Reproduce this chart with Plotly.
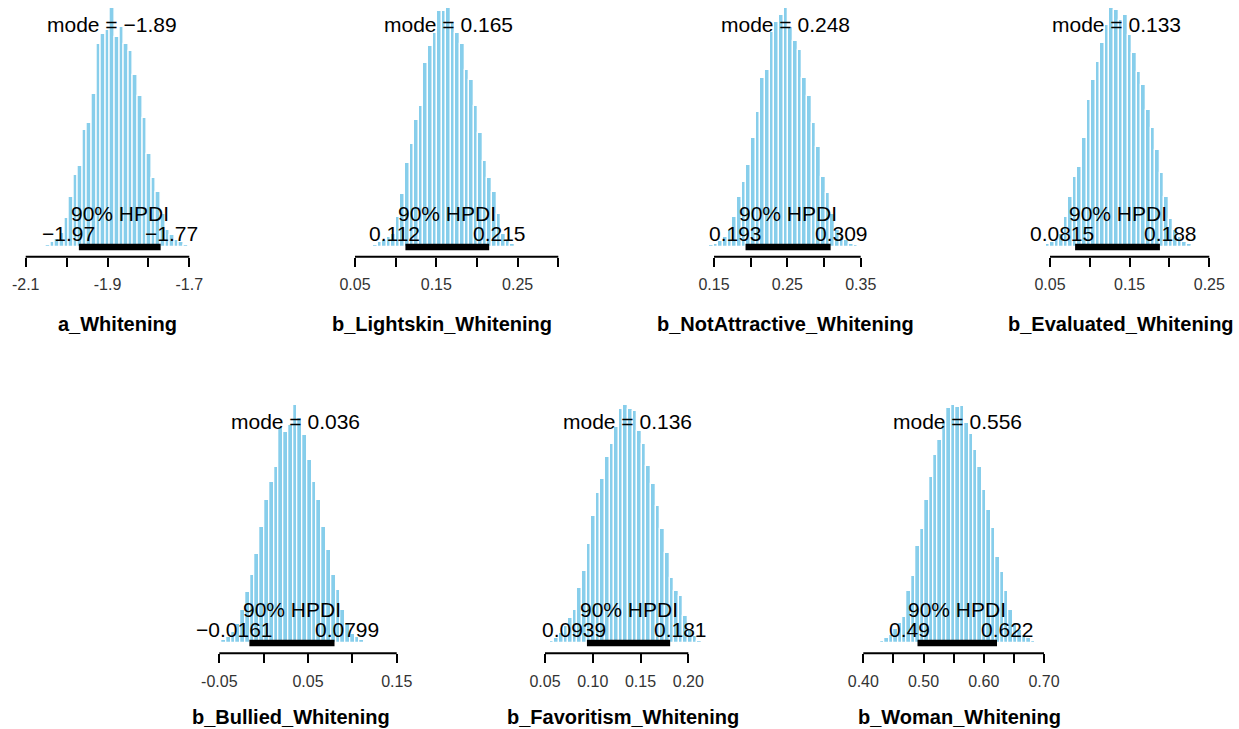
import plotly.graph_objects as go

W, H = 1239, 729

# ---------------- data ----------------
names = ["a_Whitening", "b_Lightskin_Whitening", "b_NotAttractive_Whitening",
         "b_Evaluated_Whitening", "b_Bullied_Whitening", "b_Favoritism_Whitening",
         "b_Woman_Whitening"]
modes = [-1.89, 0.165, 0.248, 0.133, 0.036, 0.136, 0.556]
hpdi_lo = [-1.97, 0.112, 0.193, 0.0815, -0.0161, 0.0939, 0.49]
hpdi_hi = [-1.77, 0.215, 0.309, 0.188, 0.0799, 0.181, 0.622]

# histogram bins (left edge of first bin, bin width) and relative bar heights (% of tallest bar)
bin_start = [-2.062, 0.0665, 0.1431, 0.0444, -0.0585, 0.0502, 0.4280]
bin_width = [0.01123, 0.00563, 0.00636, 0.00573, 0.00538, 0.00482, 0.00736]

h_a = [0.5, 1, 2, 3.5, 6, 12, 21, 30, 34, 49, 52, 64, 85, 89, 91, 100,
       88, 92, 85, 82, 72, 63, 54, 39, 29, 23, 14, 7, 5, 3, 2, 1, 0.5]
h_lightskin = [0.5, 1, 2, 3, 4, 5.6, 12.6, 22, 35, 43, 53, 59, 77, 84, 89.5, 98.6,
               98.6, 100, 94, 89.5, 85, 74, 70, 59, 47.5, 36, 28.7, 23, 14, 5.6, 2.8, 1.4]
h_notattr = [0.7, 1.4, 2.5, 4.2, 7, 12.6, 21, 27.3, 34.3, 45.5, 56.6, 70.6, 74, 90, 94, 97,
             100, 92, 86, 82.5, 70.6, 63, 51.7, 42, 29.4, 22.4, 14, 7, 4.2, 2.8, 1.4, 0.7, 0.4]
h_evaluated = [1.1, 2.1, 3.5, 5.6, 12.6, 21, 29.4, 33.6, 45.5, 61.5, 70, 77.6, 85.3, 93,
               100, 99.3, 95, 97, 88.8, 81, 73.4, 67.8, 57.3, 49.7, 40.6, 30.8, 21, 11.9,
               7, 4.2, 2.1, 1.1, 0.6]
h_bullied = [0.3, 0.5, 1.1, 2.5, 4.6, 8, 13.7, 21.5, 28.5, 37.6, 48.8, 60, 67.7, 74, 90.9,
             88.8, 91.6, 100, 94.4, 87.4, 76.9, 67.7, 60, 48.8, 39, 28.5, 22.2, 13.7, 8,
             3.9, 2.5, 1.1, 0.5]
h_favoritism = [0.4, 1, 2.1, 4.2, 7, 10.5, 14, 23.2, 30.2, 41.4, 53.4, 63.2, 68.8, 78, 83.6,
                90.6, 98.3, 100, 98.3, 97.6, 89.2, 83.6, 74.4, 66.7, 57.6, 47.8, 37.9, 27.4,
                21.8, 19.7, 11.2, 5.6, 2.8, 0.7]
h_woman = [1, 2, 3.4, 6, 8.6, 10.9, 22, 28, 40.8, 47.9, 60, 69.9, 79, 85.3, 92.3, 98.6,
           100, 99.2, 99.6, 92.3, 88, 81, 74, 64.3, 55.7, 48.5, 36.3, 30, 22, 13.7, 8.3,
           5.5, 3.4, 2, 1, 0.5]
heights = [h_a, h_lightskin, h_notattr, h_evaluated, h_bullied, h_favoritism, h_woman]

tick_vals = [
    [-2.1, -2.0, -1.9, -1.8, -1.7],
    [0.05, 0.10, 0.15, 0.20, 0.25, 0.30],
    [0.15, 0.20, 0.25, 0.30, 0.35],
    [0.05, 0.10, 0.15, 0.20, 0.25],
    [-0.05, 0.0, 0.05, 0.10, 0.15],
    [0.05, 0.10, 0.15, 0.20],
    [0.40, 0.45, 0.50, 0.55, 0.60, 0.65, 0.70],
]
tick_text = [
    ["-2.1", "", "-1.9", "", "-1.7"],
    ["0.05", "", "0.15", "", "0.25", ""],
    ["0.15", "", "0.25", "", "0.35"],
    ["0.05", "", "0.15", "", "0.25"],
    ["-0.05", "", "0.05", "", "0.15"],
    ["0.05", "0.10", "0.15", "0.20"],
    ["0.40", "", "0.50", "", "0.60", "", "0.70"],
]

# ---------------- layout geometry (pixels) ----------------
# pixel of first tick, pixels per unit, row index
geom = [
    (25.7, 409.0, 0), (355.0, 813.2, 0), (714.0, 733.5, 0), (1050.0, 796.5, 0),
    (219.3, 887.0, 1), (545.0, 955.3, 1), (863.3, 602.3, 1),
]
rows = [
    dict(axis=256.7, base=247.0, peak=8.0, top=0.0, title=324.0),
    dict(axis=653.3, base=643.0, peak=405.0, top=390.0, title=717.0),
]

FONT = "Liberation Sans, Arial, Helvetica, sans-serif"
BAR = "#87CEEB"

CW = {'0': .556, '1': .556, '2': .556, '3': .556, '4': .556, '5': .556, '6': .556,
      '7': .556, '8': .556, '9': .556, '.': .278, '\u2212': .584}


def tw(s, size):
    return sum(CW.get(c, .556) for c in s) * size


def lab(v):
    return f"{v:g}".replace("-", "\u2212")


fig = go.Figure()
annotations = []
shapes = []
layout = {}

for i in range(7):
    n = i + 1
    xa = "x" if n == 1 else f"x{n}"
    ya = "y" if n == 1 else f"y{n}"
    p0, s, r = geom[i]
    row = rows[r]
    v0 = tick_vals[i][0]
    p_last = p0 + (tick_vals[i][-1] - v0) * s
    L = max(0.0, p0 - 25)
    R = min(W, p_last + 25)
    ppu = (row["base"] - row["peak"]) / 100.0

    hs = heights[i]
    w = bin_width[i]
    centers = [bin_start[i] + w * (k + 0.5) for k in range(len(hs))]

    fig.add_trace(go.Bar(
        x=centers, y=hs, width=w, xaxis=xa, yaxis=ya,
        marker=dict(color=BAR, line=dict(color="white", width=1.3)),
        showlegend=False, hoverinfo="skip"))

    layout[f"xaxis{'' if n == 1 else n}"] = dict(
        domain=[L / W, R / W],
        range=[v0 + (L - p0) / s, v0 + (R - p0) / s],
        anchor=ya, showgrid=False, zeroline=False, showline=False,
        ticks="outside", ticklen=9, tickwidth=2, tickcolor="black",
        ticklabelstandoff=4,
        tickvals=tick_vals[i], ticktext=tick_text[i],
        tickfont=dict(family=FONT, size=16, color="#333333"),
        fixedrange=True)
    layout[f"yaxis{'' if n == 1 else n}"] = dict(
        domain=[1 - row["axis"] / H, 1 - row["top"] / H],
        range=[-(row["axis"] - row["base"]) / ppu, (row["base"] - row["top"]) / ppu],
        anchor=xa, visible=False, fixedrange=True)

    # axis line (first tick to last tick)
    shapes.append(dict(type="line", xref=xa, yref="paper",
                       x0=tick_vals[i][0], x1=tick_vals[i][-1],
                       y0=1 - row["axis"] / H, y1=1 - row["axis"] / H,
                       line=dict(color="black", width=2)))
    # HPDI bar
    shapes.append(dict(type="line", xref=xa, yref=ya,
                       x0=hpdi_lo[i], x1=hpdi_hi[i], y0=0, y1=0,
                       line=dict(color="black", width=6.5)))

    fs = 21
    annotations.append(dict(x=modes[i], y=(row["base"] - (row["peak"] + 16)) / ppu,
                            xref=xa, yref=ya, text=f"mode = {lab(modes[i])}",
                            showarrow=False, xanchor="center", yanchor="middle",
                            font=dict(family=FONT, size=fs, color="black")))
    annotations.append(dict(x=(hpdi_lo[i] + hpdi_hi[i]) / 2, y=34 / ppu,
                            xref=xa, yref=ya, text="90% HPDI",
                            showarrow=False, xanchor="center", yanchor="middle",
                            font=dict(family=FONT, size=fs, color="black")))
    lo_t = lab(hpdi_lo[i])
    hi_t = lab(hpdi_hi[i])
    annotations.append(dict(x=hpdi_lo[i], y=14 / ppu, xref=xa, yref=ya, text=lo_t,
                            showarrow=False, xanchor="center", yanchor="middle",
                            xshift=-0.2 * tw(lo_t, fs),
                            font=dict(family=FONT, size=fs, color="black")))
    annotations.append(dict(x=hpdi_hi[i], y=14 / ppu, xref=xa, yref=ya, text=hi_t,
                            showarrow=False, xanchor="center", yanchor="middle",
                            xshift=0.2 * tw(hi_t, fs),
                            font=dict(family=FONT, size=fs, color="black")))
    x_mid = bin_start[i] + w * len(hs) / 2
    annotations.append(dict(x=x_mid, y=1 - row["title"] / H, xref=xa, yref="paper",
                            text=f"<b>{names[i]}</b>", showarrow=False,
                            xanchor="center", yanchor="middle",
                            font=dict(family=FONT, size=20, color="black")))

fig.update_layout(
    width=W, height=H, margin=dict(l=0, r=0, t=0, b=0),
    paper_bgcolor="white", plot_bgcolor="white",
    bargap=0, annotations=annotations, shapes=shapes, **layout)

fig.write_html("out.html", config={"displayModeBar": False},
               post_script="document.body.style.margin='0';")
